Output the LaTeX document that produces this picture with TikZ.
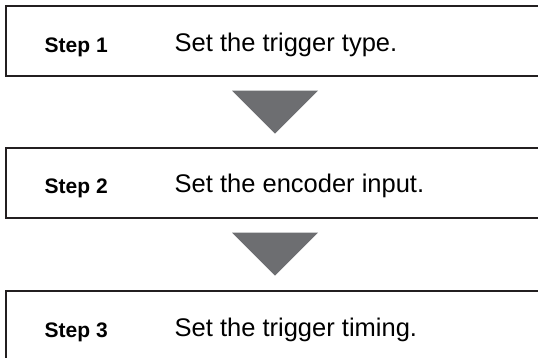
\documentclass[tikz,border=0pt]{standalone}
\usepackage{fontspec}
\setmainfont{Liberation Sans}
\usetikzlibrary{positioning}

\definecolor{boxline}{HTML}{231F20}
\definecolor{flowgray}{HTML}{6D6E71}

\begin{document}
\begin{tikzpicture}[
    x=1pt, y=-1pt,
    node distance=70pt,
    stepbox/.style={rectangle, draw=boxline, line width=2pt, minimum width=600pt, minimum height=70pt, anchor=north west, inner sep=0pt},
    steplabel/.style={font=\fontsize{21}{24}\selectfont\bfseries, anchor=base west, inner sep=0pt},
    steptext/.style={font=\fontsize{25.5}{30}\selectfont, anchor=base west, inner sep=0pt},
    flowarrow/.style={fill=flowgray},
]
    \useasboundingbox (0,0) rectangle (538,357);
    \clip (0,0) rectangle (538,357);

%% BOXES
    \node[stepbox] (box1) at (4.5,5) {};
    \node[stepbox, below=70pt of box1.south west, anchor=north west] (box2) {};
    \node[stepbox, below=71pt of box2.south west, anchor=north west] (box3) {};

%% TEXTS
    \node[steplabel] (label1) at ([xshift=40pt, yshift=-47pt]box1.north west) {Step 1};
    \node[steplabel] (label2) at ([xshift=40pt, yshift=-46pt]box2.north west) {Step 2};
    \node[steplabel] (label3) at ([xshift=40pt, yshift=-47pt]box3.north west) {Step 3};

    \node[steptext] (text1) at ([xshift=130pt, yshift=1pt]label1.base west) {Set the trigger type.};
    \node[steptext] (text2) at ([xshift=130pt, yshift=1pt]label2.base west) {Set the encoder input.};
    \node[steptext] (text3) at ([xshift=130pt, yshift=1pt]label3.base west) {Set the trigger timing.};

%% ARROWS
    \foreach \a/\b in {box1/box2, box2/box3}
        \fill[flowarrow] ([xshift=227.5pt, yshift=-13.5pt]\a.south west) -- ++(86,0) -- ++(-43,43) -- cycle;

\end{tikzpicture}
\end{document}
